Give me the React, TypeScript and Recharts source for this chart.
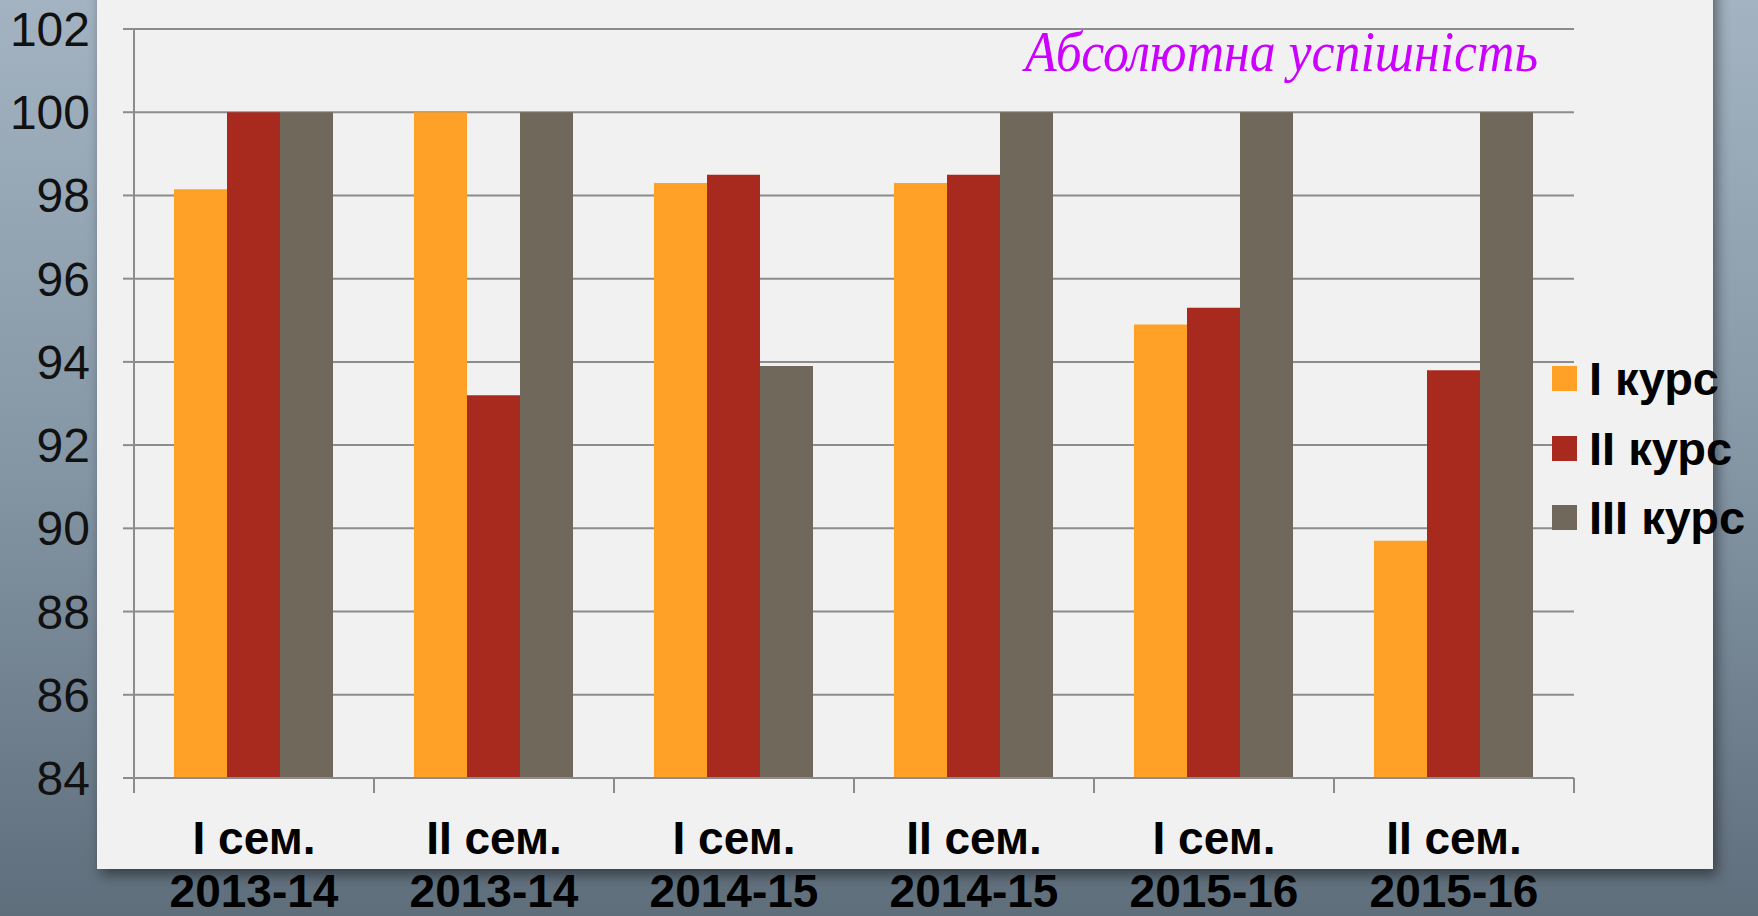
import { BarChart, Bar, XAxis, YAxis, CartesianGrid, Legend } from 'recharts';

const semesters = ['I сем.', 'II сем.', 'I сем.', 'II сем.', 'I сем.', 'II сем.'];
const years = ['2013-14', '2013-14', '2014-15', '2014-15', '2015-16', '2015-16'];
const course1 = [98.15, 100, 98.3, 98.3, 94.9, 89.7];
const course2 = [100, 93.2, 98.5, 98.5, 95.3, 93.8];
const course3 = [100, 100, 93.9, 100, 100, 100];
const seriesKeys = ['c1', 'c2', 'c3'];
const seriesNames = ['I курс', 'II курс', 'III курс'];
const seriesColors = ['#FFA126', '#A8291E', '#70685A'];
const yTicks = [84, 86, 88, 90, 92, 94, 96, 98, 100, 102];

const data = semesters.map((s, i) => ({
  name: `${s} ${years[i]}`,
  sem: s,
  year: years[i],
  c1: course1[i],
  c2: course2[i],
  c3: course3[i],
}));

const W = 1758;
const H = 916;
const PLOT_LEFT = 134;
const PLOT_RIGHT = 1574;
const BAND = (PLOT_RIGHT - PLOT_LEFT) / semesters.length;
const FONT = '"Liberation Sans", Arial, sans-serif';

function XTick(props: any) {
  const { x, y, index } = props;
  const last = index === semesters.length - 1;
  return (
    <g>
      <line x1={x - BAND / 2} x2={x - BAND / 2} y1={y} y2={y + 15} stroke="#8C8C8C" strokeWidth={2} />
      {last && <line x1={x + BAND / 2} x2={x + BAND / 2} y1={y} y2={y + 15} stroke="#8C8C8C" strokeWidth={2} />}
      <text x={x} y={y + 76} textAnchor="middle" fontFamily={FONT} fontWeight="bold" fontSize={46} fill="#000">
        {semesters[index]}
      </text>
      <text x={x} y={y + 129} textAnchor="middle" fontFamily={FONT} fontWeight="bold" fontSize={46} fill="#000">
        {years[index]}
      </text>
    </g>
  );
}

function LegendBox() {
  return (
    <div style={{ display: 'flex', flexDirection: 'column' }}>
      {seriesNames.map((n, i) => (
        <div key={n} style={{ height: 69.5, display: 'flex', alignItems: 'center' }}>
          <div style={{ width: 25, height: 25, background: seriesColors[i], marginRight: 12 }} />
          <span style={{ fontFamily: FONT, fontWeight: 'bold', fontSize: 47, color: '#000', whiteSpace: 'nowrap' }}>{n}</span>
        </div>
      ))}
    </div>
  );
}

export default function App() {
  return (
    <div
      style={{
        position: 'absolute',
        left: 0,
        top: 0,
        width: W,
        height: H,
        overflow: 'hidden',
        background: 'linear-gradient(180deg, #A3B3C1 0%, #8596A5 50%, #5F6E7B 100%)',
      }}
    >
      <div
        style={{
          position: 'absolute',
          left: 97,
          top: -20,
          width: 1713 - 97,
          height: 869 + 20,
          background: '#F1F1F1',
          boxShadow: '4px 6px 12px rgba(0,0,0,0.45)',
        }}
      />
      <svg style={{ position: 'absolute', left: 0, top: 0 }} width={W} height={120}>
        <text
          x={1025}
          y={71}
          fontFamily='"Liberation Serif", "DejaVu Serif", serif'
          fontStyle="italic"
          fontSize={56}
          fill="#CC00FF"
          textLength={513}
          lengthAdjust="spacingAndGlyphs"
        >
          Абсолютна успішність
        </text>
      </svg>
      <div style={{ position: 'absolute', left: 0, top: 0 }}>
        <BarChart
          width={W}
          height={H}
          data={data}
          margin={{ top: 29, right: W - PLOT_RIGHT, bottom: 0, left: 0 }}
          barCategoryGap={40}
          barGap={0}
        >
          <CartesianGrid vertical={false} stroke="#8C8C8C" strokeWidth={2} />
          <XAxis
            dataKey="name"
            height={138}
            interval={0}
            tickLine={false}
            tickSize={0}
            tickMargin={0}
            axisLine={{ stroke: '#8C8C8C', strokeWidth: 2 }}
            tick={<XTick />}
          />
          <YAxis
            width={PLOT_LEFT}
            domain={[84, 102]}
            ticks={yTicks}
            interval={0}
            tickSize={11}
            tickMargin={33}
            axisLine={{ stroke: '#8C8C8C', strokeWidth: 2 }}
            tickLine={{ stroke: '#8C8C8C', strokeWidth: 2 }}
            tick={{ fill: '#111', fontSize: 48, fontFamily: FONT }}
          />
          <Legend
            layout="horizontal"
            verticalAlign="middle"
            align="center"
            wrapperStyle={{ left: 1552, top: 344, width: 210 }}
            content={() => <LegendBox />}
          />
          {seriesKeys.map((k, i) => (
            <Bar key={k} dataKey={k} name={seriesNames[i]} fill={seriesColors[i]} isAnimationActive={false} />
          ))}
        </BarChart>
      </div>
    </div>
  );
}
